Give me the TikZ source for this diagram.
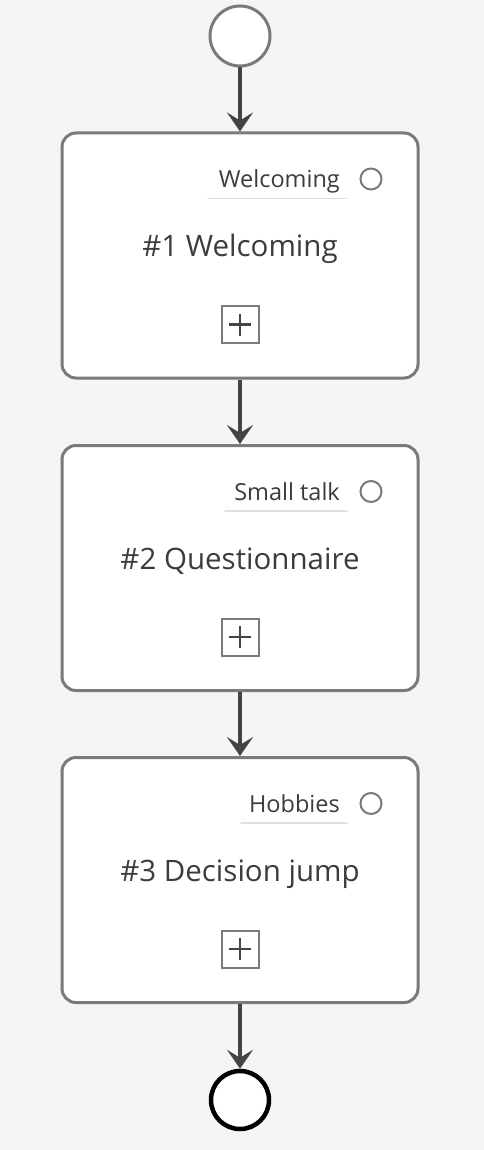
\documentclass[tikz,border=0pt]{standalone}
\usepackage{fontspec}
\setmainfont{Open Sans}
\usetikzlibrary{arrows.meta}
\definecolor{bgc}{HTML}{F5F5F7}
\definecolor{edgec}{HTML}{7A7A7A}
\definecolor{arrc}{HTML}{444444}
\definecolor{txtc}{HTML}{3C3C3C}
\tikzset{
  x=1pt,y=-1pt,
  stepbox/.style={draw=edgec,line width=3pt,fill=white,rounded corners=14pt,minimum width=356pt,minimum height=245pt,inner sep=0pt},
  flow/.style={draw=arrc,line width=3.5pt,-{Stealth[length=19pt,width=26pt,inset=8pt]}},
  title/.style={text=txtc,font=\fontsize{29.5}{34}\selectfont,inner sep=0pt},
  tag/.style={text=txtc,font=\fontsize{23.5}{28}\selectfont,inner sep=0pt},
  tagline/.style={draw=black!12,line width=1.5pt,line cap=round},
  dot/.style={circle,draw=edgec,line width=2pt,minimum size=21pt,inner sep=0pt},
  plusbox/.style={draw=edgec,line width=2pt,minimum size=37pt,inner sep=0pt},
}
\begin{document}
\begin{tikzpicture}
\fill[bgc] (0,0) rectangle (484,1150);
\useasboundingbox (0,0) rectangle (484,1150);
\node[circle,draw=edgec,line width=3pt,fill=white,minimum size=60pt,inner sep=0pt] (start) at (240,36) {};
\node[circle,draw=black,line width=4.5pt,fill=white,minimum size=58pt,inner sep=0pt] (end) at (240,1100) {};
\foreach \i/\y/\tg/\tx/\tl in {1/255.5/Welcoming/\#1 Welcoming/208, 2/568/Small talk/\#2 Questionnaire/225, 3/880/Hobbies/\#3 Decision jump/241}{
  \node[stepbox] (b\i) at (240,\y) {};
  \coordinate (tl\i) at (\tl,\y-57);
  \coordinate (tr\i) at (347,\y-57);
  \draw[tagline] (tl\i) -- (tr\i);
  \node[tag,anchor=base east] (t\i) at (340,\y-67.5) {\tg};
  \node[dot] (d\i) at (371,\y-76.5) {};
  \node[title,anchor=base] (n\i) at (240,\y+1.5) {\tx};
  \node[plusbox] (p\i) at (240,\y+69) {};
  \draw[arrc,line width=2.5pt] ([xshift=-11pt]p\i.center) -- ([xshift=11pt]p\i.center);
  \draw[arrc,line width=2.5pt] ([yshift=-11pt]p\i.center) -- ([yshift=11pt]p\i.center);
}
\draw[flow] (start) -- (b1);
\draw[flow] (b1) -- (b2);
\draw[flow] (b2) -- (b3);
\draw[flow] (b3) -- (end);
\end{tikzpicture}
\end{document}
